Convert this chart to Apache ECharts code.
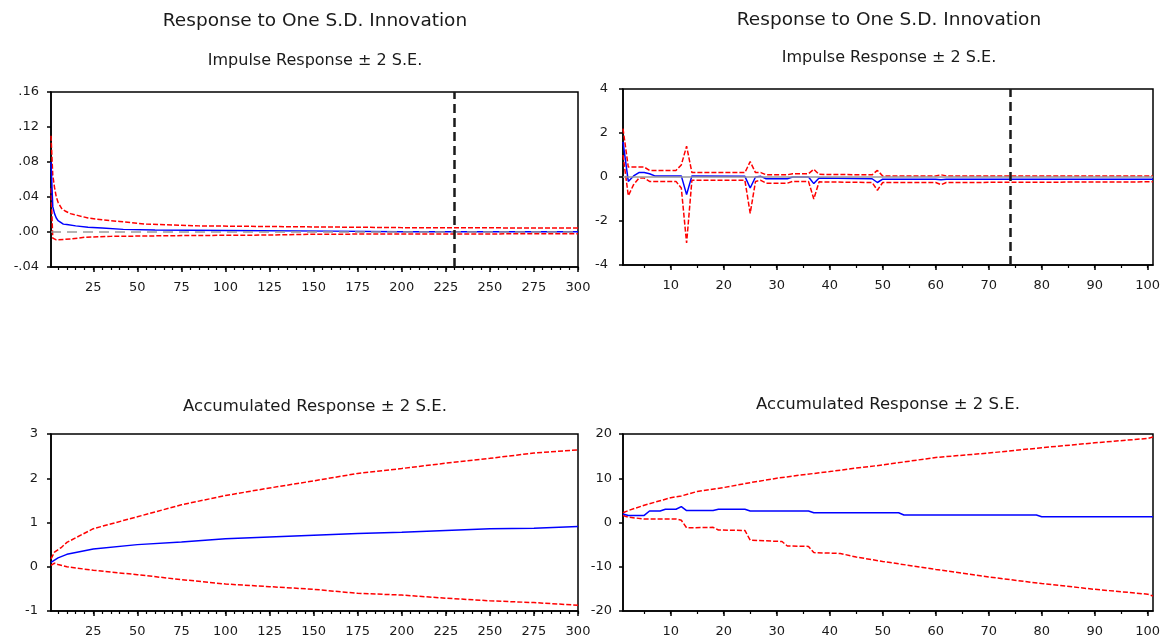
<!DOCTYPE html>
<html>
<head>
<meta charset="utf-8">
<title>Response to One S.D. Innovation</title>
<script src="https://cdn.jsdelivr.net/npm/echarts@6/dist/echarts.min.js"></script>
<style>
    html, body { margin: 0; padding: 0; background: #fff; }
    #chart { width: 1168px; height: 640px; }
</style>
</head>
<body>
<div id="chart"></div>
<script>
// ---- data: [period, value] ----

// top left: impulse response, 300 periods
var tlIrf = [[1, 0.08], [2, 0.029], [3, 0.021], [4, 0.016], [5, 0.013], [6, 0.011], [8, 0.009], [10, 0.0085],
    [15, 0.007], [22, 0.0055], [30, 0.0045], [42, 0.003], [60, 0.0022], [100, 0.0018], [160, 0.001],
    [200, 0.0004], [300, 0.0002]];
var tlUpper = [[1, 0.11], [2, 0.065], [3, 0.051], [4, 0.04], [5, 0.034], [7, 0.027], [9, 0.024], [12, 0.021],
    [16, 0.019], [22, 0.016], [30, 0.014], [40, 0.012], [55, 0.009], [85, 0.007], [140, 0.006],
    [200, 0.005], [300, 0.0045]];
var tlLower = [[1, 0.05], [2, -0.007], [4, -0.009], [12, -0.008], [20, -0.006], [35, -0.005], [80, -0.004],
    [125, -0.0035], [150, -0.0025], [300, -0.002]];
var tlShock = 230;

// top right: impulse response, 101 periods
var trIrf = [[1, 1.6], [2, -0.2], [3, 0.05], [4, 0.2], [5, 0.2], [6, 0.15], [7, 0.05], [12, 0.05], [13, -0.8],
    [14, 0.05], [24, 0.03], [25, -0.5], [26, 0.0], [27, 0.03], [28, -0.08], [32, -0.08], [33, 0.0], [36, 0.0],
    [37, -0.3], [38, -0.05], [48, -0.08], [49, -0.25], [50, -0.1], [60, -0.1], [61, -0.12], [62, -0.1],
    [101, -0.1]];
var trUpper = [[1, 2.2], [2, 0.45], [5, 0.45], [6, 0.3], [11, 0.3], [12, 0.55], [13, 1.4], [14, 0.2], [24, 0.2],
    [25, 0.7], [26, 0.2], [27, 0.2], [28, 0.1], [32, 0.1], [33, 0.15], [36, 0.15], [37, 0.35], [38, 0.12],
    [48, 0.1], [49, 0.3], [50, 0.05], [60, 0.05], [61, 0.1], [62, 0.05], [101, 0.05]];
var trLower = [[1, 1.0], [2, -0.85], [3, -0.35], [4, -0.05], [5, -0.05], [6, -0.2], [11, -0.2], [12, -0.5],
    [13, -3.0], [14, -0.15], [24, -0.15], [25, -1.65], [26, -0.2], [27, -0.15], [28, -0.28], [32, -0.28],
    [33, -0.2], [36, -0.2], [37, -1.0], [38, -0.22], [48, -0.25], [49, -0.6], [50, -0.25], [60, -0.25],
    [61, -0.35], [62, -0.25], [101, -0.22]];
var trShock = 74;

// bottom left: accumulated response, 300 periods
var blAcc = [[1, 0.1], [5, 0.2], [10, 0.28], [25, 0.4], [50, 0.5], [75, 0.56], [100, 0.63], [125, 0.67],
    [150, 0.71], [175, 0.75], [200, 0.78], [225, 0.82], [250, 0.86], [275, 0.87], [300, 0.91]];
var blUpper = [[1, 0.18], [3, 0.33], [7, 0.44], [10, 0.55], [25, 0.86], [50, 1.13], [75, 1.4], [100, 1.61],
    [125, 1.78], [150, 1.94], [175, 2.11], [200, 2.22], [225, 2.34], [250, 2.45], [275, 2.57], [300, 2.64]];
var blLower = [[1, 0.03], [3, 0.08], [5, 0.05], [10, 0.0], [25, -0.08], [50, -0.18], [75, -0.29], [100, -0.39],
    [125, -0.45], [150, -0.51], [175, -0.6], [200, -0.64], [225, -0.71], [250, -0.77], [275, -0.81],
    [300, -0.87]];

// bottom right: accumulated response, 101 periods
var brAcc = [[1, 1.9], [2, 1.6], [5, 1.6], [6, 2.6], [8, 2.6], [9, 3.0], [11, 3.0], [12, 3.6], [13, 2.7],
    [18, 2.7], [19, 3.0], [24, 3.0], [25, 2.6], [36, 2.6], [37, 2.2], [53, 2.2], [54, 1.7], [79, 1.7],
    [80, 1.3], [101, 1.3]];
var brUpper = [[1, 2.2], [2, 2.7], [5, 3.9], [10, 5.6], [12, 6.0], [15, 7.0], [20, 7.9], [25, 9.0], [30, 10.0],
    [35, 10.8], [40, 11.5], [45, 12.3], [50, 13.0], [60, 14.7], [70, 15.7], [80, 16.9], [90, 18.0],
    [100, 19.0], [101, 19.3]];
var brLower = [[1, 1.6], [2, 1.2], [5, 0.8], [11, 0.8], [12, 0.5], [13, -1.2], [18, -1.1], [19, -1.7],
    [24, -1.8], [25, -4.0], [31, -4.3], [32, -5.3], [36, -5.4], [37, -6.8], [42, -7.0], [45, -7.8],
    [50, -8.8], [60, -10.6], [70, -12.3], [80, -13.8], [90, -15.1], [100, -16.2], [101, -16.6]];

// tick labels
var longXLabels = [25, 50, 75, 100, 125, 150, 175, 200, 225, 250, 275, 300];
var shortXLabels = [10, 20, 30, 40, 50, 60, 70, 80, 90, 100];

var FONT = 'DejaVu Sans';
var TXT = '#1a1a1a';

var grids = [
    {left: 51, top: 92, width: 527, height: 175},
    {left: 623, top: 89, width: 530, height: 176},
    {left: 51, top: 434, width: 527, height: 177},
    {left: 623, top: 434, width: 530, height: 177}
];

function minorTicks(max) {
    var arr = [];
    for (var v = 5; v <= max; v += 5) arr.push(v);
    return arr;
}

// main x axis: labels + longer ticks
function mainX(grid, max, labels) {
    return {
        type: 'value', gridIndex: grid, min: 1, max: max,
        splitLine: {show: false},
        axisLine: {show: true, onZero: false, lineStyle: {color: '#000', width: 1.5}},
        axisTick: {show: true, length: 5, customValues: labels, lineStyle: {color: '#000', width: 1.5}},
        axisLabel: {customValues: labels, margin: 14, color: TXT, fontFamily: FONT, fontSize: 13}
    };
}

// overlay x axis carrying only the short ticks
function minorX(grid, max) {
    return {
        type: 'value', gridIndex: grid, min: 1, max: max, position: 'bottom',
        splitLine: {show: false},
        axisLine: {show: false, onZero: false},
        axisTick: {show: true, length: 3, customValues: minorTicks(max), lineStyle: {color: '#000', width: 1.2}},
        axisLabel: {show: false}
    };
}

function yAx(grid, min, max, interval, margin, fmt) {
    return {
        type: 'value', gridIndex: grid, min: min, max: max, interval: interval,
        splitLine: {show: false},
        axisLine: {show: true, lineStyle: {color: '#000', width: 1.5}},
        axisTick: {show: true, length: 4, lineStyle: {color: '#000', width: 1.5}},
        axisLabel: {margin: margin, color: TXT, fontFamily: FONT, fontSize: 13, formatter: fmt}
    };
}

function dotFormat(v) {
    if (Math.abs(v) < 1e-9) v = 0;
    return v.toFixed(2).replace('0.', '.');
}

function line(data, idx, color, dashed, extra) {
    var s = {
        type: 'line', xAxisIndex: idx, yAxisIndex: idx, data: data,
        showSymbol: false, symbol: 'none', silent: true, z: 3,
        lineStyle: {color: color, width: 1.5, type: dashed ? [5, 2] : 'solid'}
    };
    if (extra) s.markLine = extra;
    return s;
}

function zeroLine(idx, dashed) {
    return {
        type: 'line', xAxisIndex: idx, yAxisIndex: idx, data: [], z: 2, silent: true,
        markLine: {
            symbol: 'none', silent: true, label: {show: false}, animation: false,
            lineStyle: {color: '#9a9a9a', width: 1.5, type: dashed ? [10, 6] : 'solid'},
            data: [{yAxis: 0}]
        }
    };
}

function shockLine(x) {
    return {
        symbol: 'none', silent: true, label: {show: false}, animation: false,
        lineStyle: {color: '#1a1a1a', width: 2.5, type: [9, 5]},
        data: [{xAxis: x}]
    };
}

function title(text, x, y, size) {
    return {
        type: 'text', x: x, y: y,
        style: {text: text, fill: TXT, font: size + 'px "' + FONT + '"', textAlign: 'center', textVerticalAlign: 'middle'}
    };
}

var myChart = echarts.init(document.getElementById('chart'));

var option = {
    animation: false,
    backgroundColor: '#fff',
    grid: grids.map(function (g) {
        return {left: g.left, top: g.top, width: g.width, height: g.height, show: true,
            borderColor: '#000', borderWidth: 1.5, backgroundColor: 'transparent'};
    }),
    xAxis: [
        mainX(0, 300, longXLabels), mainX(1, 101, shortXLabels),
        mainX(2, 300, longXLabels), mainX(3, 101, shortXLabels),
        minorX(0, 300), minorX(1, 101), minorX(2, 300), minorX(3, 101)
    ],
    yAxis: [
        yAx(0, -0.04, 0.16, 0.04, 12, dotFormat),
        yAx(1, -4, 4, 2, 15),
        yAx(2, -1, 3, 1, 13),
        yAx(3, -20, 20, 10, 11)
    ],
    graphic: [
        title('Response to One S.D. Innovation', 315, 21, 18.5),
        title('Response to One S.D. Innovation', 889, 20, 18.5),
        title('Impulse Response \u00b1 2 S.E.', 315, 61, 16),
        title('Impulse Response \u00b1 2 S.E.', 889, 58, 16),
        title('Accumulated Response \u00b1 2 S.E.', 315, 407, 16.5),
        title('Accumulated Response \u00b1 2 S.E.', 888, 405, 16.5)
    ],
    series: [
        zeroLine(0, true),
        zeroLine(1, false),
        line(tlUpper, 0, '#ff0000', true),
        line(tlLower, 0, '#ff0000', true),
        line(tlIrf, 0, '#0000ff', false, shockLine(tlShock)),
        line(trUpper, 1, '#ff0000', true),
        line(trLower, 1, '#ff0000', true),
        line(trIrf, 1, '#0000ff', false, shockLine(trShock)),
        line(blUpper, 2, '#ff0000', true),
        line(blLower, 2, '#ff0000', true),
        line(blAcc, 2, '#0000ff', false),
        line(brUpper, 3, '#ff0000', true),
        line(brLower, 3, '#ff0000', true),
        line(brAcc, 3, '#0000ff', false)
    ]
};

myChart.setOption(option);
</script>
</body>
</html>
